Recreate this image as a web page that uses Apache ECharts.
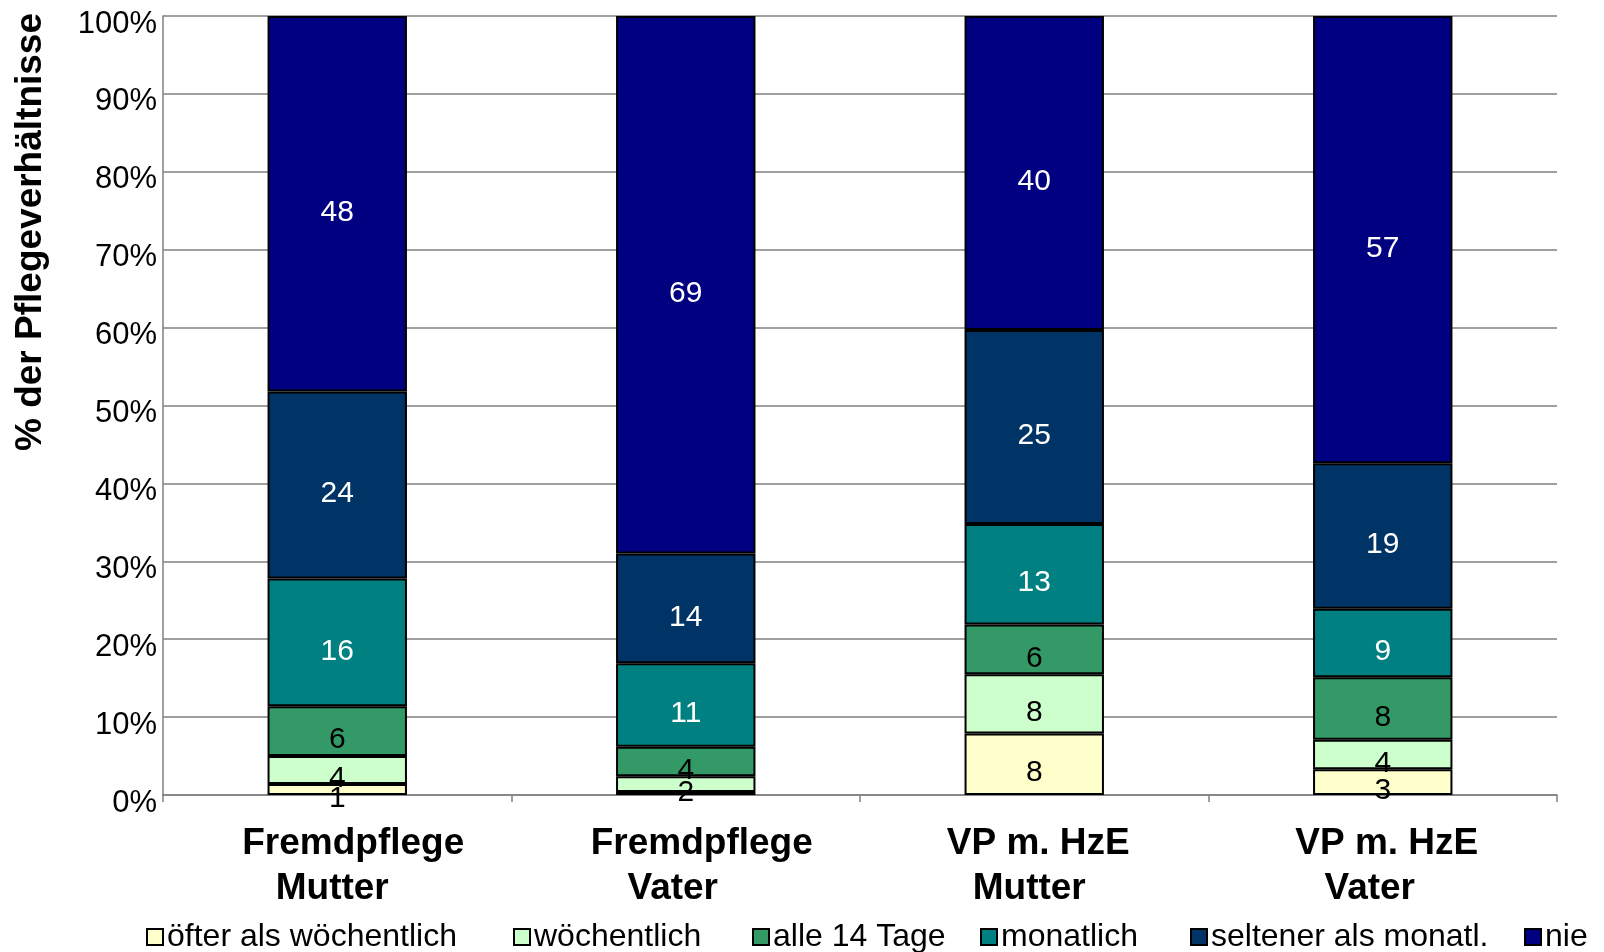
<!DOCTYPE html>
<html>
<head>
<meta charset="utf-8">
<script src="https://cdn.jsdelivr.net/npm/echarts@6/dist/echarts.min.js"></script>
<style>
  html, body { margin: 0; padding: 0; background: #fff; }
  #chart { width: 1604px; height: 952px; }
</style>
</head>
<body>
<div id="chart"></div>
<script>
// Anteile in % je Kategorie (Reihenfolge wie categories)
const categories = ['Fremdpflege\nMutter', 'Fremdpflege\nVater', 'VP m. HzE\nMutter', 'VP m. HzE\nVater']
const oefterAlsWoechentlich = [1.4, 0.4, 7.9, 3.3]
const woechentlich = [3.6, 2.0, 7.6, 3.8]
const alle14Tage = [6.4, 3.8, 6.4, 8.0]
const monatlich = [16.4, 10.7, 12.9, 8.8]
const seltenerAlsMonatl = [24.0, 14.1, 24.9, 18.7]
const nie = [48.2, 69.0, 40.3, 57.4]
const yTicks = [0, 10, 20, 30, 40, 50, 60, 70, 80, 90, 100]

const font = 'Liberation Sans, Arial, sans-serif'

const seriesDefs = [
  { name: 'öfter als wöchentlich', data: oefterAlsWoechentlich, color: '#FFFFCC', text: '#000', legendX: 146 },
  { name: 'wöchentlich', data: woechentlich, color: '#CCFFCC', text: '#000', legendX: 513 },
  { name: 'alle 14 Tage', data: alle14Tage, color: '#339966', text: '#000', legendX: 752 },
  { name: 'monatlich', data: monatlich, color: '#008080', text: '#fff', legendX: 980 },
  { name: 'seltener als monatl.', data: seltenerAlsMonatl, color: '#003366', text: '#fff', legendX: 1190 },
  { name: 'nie', data: nie, color: '#000080', text: '#fff', legendX: 1524 }
]

// Zeilen der Achsenbeschriftung sind im Original etwas versetzt
const lineStyle = (shift) => ({
  fontFamily: font, fontSize: 37, fontWeight: 'bold', color: '#000', lineHeight: 45,
  padding: shift > 0 ? [0, 0, 0, shift * 2] : [0, -shift * 2, 0, 0]
})

const chart = echarts.init(document.getElementById('chart'))

chart.setOption({
  animation: false,
  grid: { left: 163, right: 47, top: 16, bottom: 157 },
  // eine Legende pro Eintrag, damit die Abstaende wie im Original sind
  legend: seriesDefs.map(s => ({
    data: [s.name],
    left: s.legendX,
    top: 921,
    itemWidth: 16,
    itemHeight: 16,
    itemGap: 0,
    icon: 'rect',
    padding: 0,
    textStyle: { fontFamily: font, fontSize: 32, color: '#000', padding: [0, 0, 0, -1] }
  })),
  xAxis: {
    type: 'category',
    data: categories,
    axisLine: { lineStyle: { color: '#808080', width: 1.5 } },
    axisTick: { show: true, length: 7, lineStyle: { color: '#808080', width: 1.5 } },
    axisLabel: {
      margin: 26,
      interval: 0,
      formatter: v => {
        const [a, b] = v.split('\n')
        const s1 = a.startsWith('Fremd') ? 'fp' : 'vp'
        const s2 = b === 'Mutter' ? 'mu' : 'va'
        return '{' + s1 + '|' + a + '}\n{' + s2 + '|' + b + '}'
      },
      rich: {
        fp: lineStyle(16),
        vp: lineStyle(4),
        mu: lineStyle(-5),
        va: lineStyle(-13)
      }
    }
  },
  yAxis: {
    type: 'value',
    min: 0,
    max: 100,
    interval: 10,
    axisLine: { show: true, lineStyle: { color: '#808080', width: 1.5 } },
    axisTick: { show: false },
    splitLine: { lineStyle: { color: '#808080', width: 1.5 } },
    axisLabel: {
      margin: 6,
      formatter: v => yTicks.includes(v) ? '{t|' + v + '%}' : '',
      rich: {
        t: { fontFamily: font, fontSize: 31, color: '#000', padding: [16, 0, 0, 0] }
      }
    }
  },
  graphic: [{
    type: 'text',
    x: 31,
    y: 232,
    rotation: Math.PI / 2,
    style: {
      text: '% der Pflegeverhältnisse',
      font: 'bold 37px ' + font,
      fill: '#000',
      align: 'center',
      verticalAlign: 'middle'
    }
  }],
  series: seriesDefs.map(s => ({
    name: s.name,
    type: 'bar',
    stack: 'total',
    barWidth: '40%',
    data: s.data,
    itemStyle: { color: s.color, borderColor: '#000', borderWidth: 2 },
    label: {
      show: true,
      position: 'inside',
      offset: [0, 9],
      fontFamily: font,
      fontSize: 30,
      color: s.text,
      formatter: p => {
        const r = Math.round(p.value)
        return r > 0 ? String(r) : ''
      }
    }
  }))
})
</script>
</body>
</html>
